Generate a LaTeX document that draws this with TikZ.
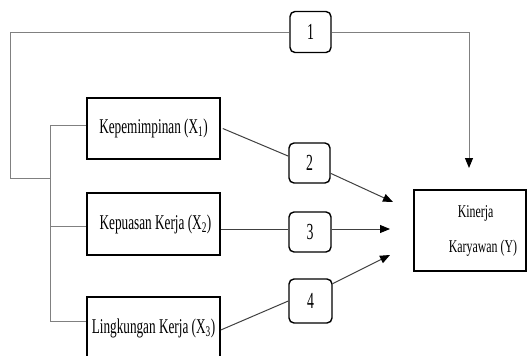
\documentclass[tikz,border=0pt]{standalone}
\usepackage{fontspec}
\setmainfont{Liberation Serif}[FakeStretch=0.63]
\newfontfamily\yfont{Liberation Serif}[FakeStretch=0.66]
\newfontfamily\numfont{Liberation Serif}[FakeStretch=0.6]
\usetikzlibrary{arrows.meta}

\begin{document}
\begin{tikzpicture}[x=1pt,y=-1pt,
  varbox/.style={draw=black, line width=1.6pt, minimum width=133, minimum height=61, inner sep=0pt, font=\fontsize{21}{25}\selectfont},
  numbox/.style={draw=black, line width=1.4pt, rounded corners=5pt, minimum width=41, minimum height=41, inner sep=0pt, font=\numfont\fontsize{23}{27}\selectfont},
  tree/.style={black!50, line width=1pt},
  feed/.style={black!75, line width=1pt, -{Triangle[length=10pt, width=8pt, color=black]}}]
\useasboundingbox (0,0) rectangle (528,356);
% independent variables
\node[varbox] (X1) at (153.5,128.5) {Kepemimpinan (X\textsubscript{1})};
\node[varbox, minimum height=62] (X2) at (153.5,224) {\hspace*{4pt}Kepuasan Kerja (X\textsubscript{2})};
\node[varbox, minimum height=62] (X3) at (153.5,328) {Lingkungan Kerja (X\textsubscript{3})};
% dependent variable
\node[varbox, minimum width=112, minimum height=81, font=\yfont\fontsize{18}{21.6}\selectfont] (Y) at (470,230.5)
  {\hspace*{26pt}\begin{tabular}{@{}l@{}}\hspace*{9pt}Kinerja\\[13pt]Karyawan (Y)\end{tabular}};
% hypothesis labels
\node[numbox] (n1) at (310.5,32) {1};
\node[numbox, minimum height=40] (n2) at (309.5,163) {2};
\node[numbox, minimum width=42, minimum height=40] (n3) at (310,232) {3};
\node[numbox, minimum width=43, minimum height=44] (n4) at (310.5,301) {4};
% tree on the left
\coordinate (t0) at (10,32);
\coordinate (t1) at (469,32);
\coordinate (t2) at (10,178);
\coordinate (t3) at (50,178);
\coordinate (b1) at (50,125);
\coordinate (b2) at (50,226);
\coordinate (b3) at (50,321);
\draw[tree] (n1.west) -- (t0) -- (t2) -- (t3);
\draw[tree] (b1) -- (b3);
\draw[tree] (b1) -- (b1 -| X1.west);
\draw[tree] (b2) -- (b2 -| X2.west);
\draw[tree] (b3) -- (b3 -| X3.west);
% paths to Y
\coordinate (a1) at (469,168);
\coordinate (a2) at (393,202);
\coordinate (a3) at (390,229);
\coordinate (a4) at (390,255);
\draw[tree, -{Triangle[length=10pt, width=8pt, color=black]}] (n1.east) -- (t1) -- (a1);
\draw[black!75, line width=1pt] ([xshift=2pt]X1.east) -- (n2.162);
\draw[feed] (n2.-26) -- (a2);
\draw[black!75, line width=1pt] (X2.east |- a3) -- (n3.west |- a3);
\draw[feed] (n3.east |- a3) -- (a3);
\draw[black!75, line width=1pt] ([yshift=-2pt]X3.east) -- (n4.west);
\draw[feed] (n4.38) -- (a4);
\end{tikzpicture}
\end{document}
